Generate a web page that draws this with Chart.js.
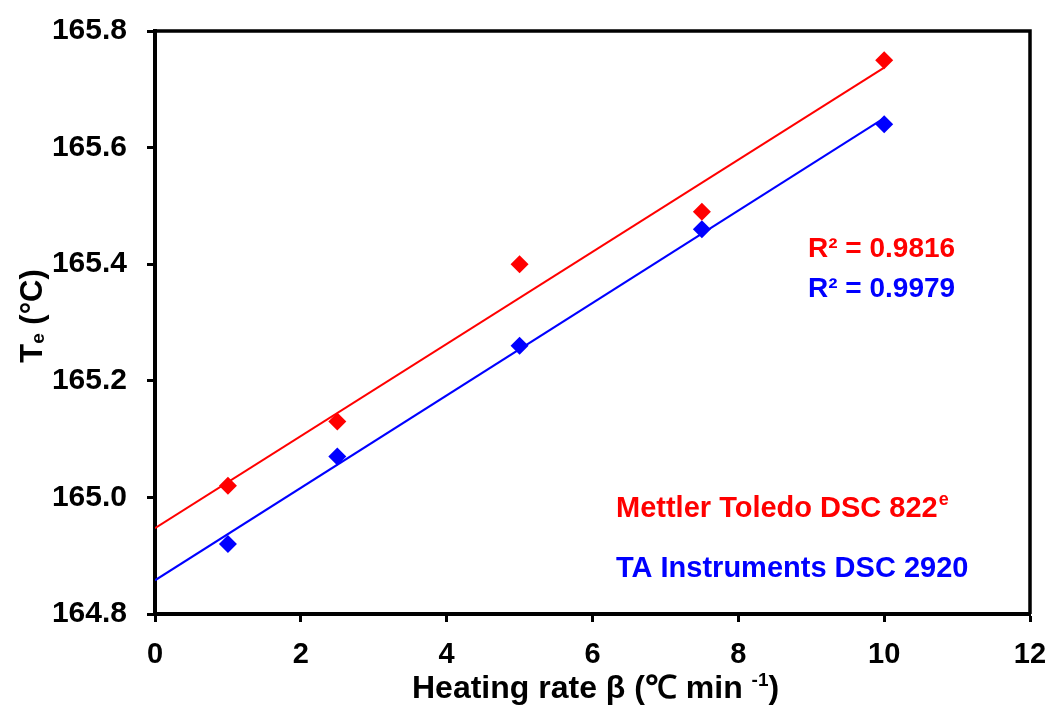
<!DOCTYPE html>
<html>
<head>
<meta charset="utf-8">
<script src="https://cdn.jsdelivr.net/npm/chart.js@4.4.1/dist/chart.umd.min.js"></script>
<style>
  html, body { margin: 0; padding: 0; background: #fff; }
  canvas { display: block; }
</style>
</head>
<body>
<canvas id="chart" width="1053" height="707"></canvas>
<script>
// heating rate (°C/min) and extrapolated onset temperature Te (°C)
const heatingRates = [1, 2.5, 5, 7.5, 10];
const mettlerTe = [165.02, 165.13, 165.40, 165.49, 165.75];
const taTe = [164.92, 165.07, 165.26, 165.46, 165.64];

const xTickRange = [0, 12, 2];        // min, max, step
const yTickRange = [164.8, 165.8, 0.2];

const mettlerLabel = 'Mettler Toledo DSC 822';
const taLabel = 'TA Instruments DSC 2920';
const mettlerR2 = 'R² = 0.9816';
const taR2 = 'R² = 0.9979';

const RED = '#ff0000';
const BLUE = '#0000ff';
const FONT = '"Liberation Sans", Arial, sans-serif';

// least squares fit, drawn from x = 0 to the last point like the Excel trendline
function trend(xs, ys) {
    const n = xs.length;
    const mx = xs.reduce((a, b) => a + b, 0) / n;
    const my = ys.reduce((a, b) => a + b, 0) / n;
    let sxy = 0, sxx = 0;
    xs.forEach((x, i) => { sxy += (x - mx) * (ys[i] - my); sxx += (x - mx) * (x - mx); });
    const slope = sxy / sxx;
    const icpt = my - slope * mx;
    const x1 = xs[n - 1];
    return [{ x: 0, y: icpt }, { x: x1, y: icpt + slope * x1 }];
}

const toPoints = (xs, ys) => xs.map((x, i) => ({ x: x, y: ys[i] }));

// frame, annotations and axis titles (with sub/superscripts)
const extras = {
    id: 'extras',
    afterDraw(chart) {
        const ctx = chart.ctx;
        const a = chart.chartArea;
        ctx.save();
        ctx.strokeStyle = '#000';
        ctx.lineWidth = 3.5;
        ctx.beginPath();
        ctx.moveTo(a.left, a.top);
        ctx.lineTo(a.right, a.top);
        ctx.lineTo(a.right, a.bottom);
        ctx.stroke();

        ctx.textBaseline = 'alphabetic';
        ctx.textAlign = 'left';
        ctx.font = 'bold 28px ' + FONT;
        ctx.fillStyle = RED;
        ctx.fillText(mettlerR2, 808, 257);
        ctx.fillStyle = BLUE;
        ctx.fillText(taR2, 808, 297);

        ctx.font = 'bold 29px ' + FONT;
        ctx.fillStyle = RED;
        ctx.fillText(mettlerLabel, 616, 517);
        let w = ctx.measureText(mettlerLabel).width;
        ctx.font = 'bold 18px ' + FONT;
        ctx.fillText('e', 616 + w + 1, 505);
        ctx.font = 'bold 29px ' + FONT;
        ctx.fillStyle = BLUE;
        ctx.fillText(taLabel, 616, 577);

        // x title
        ctx.fillStyle = '#000';
        const big = 'bold 32px ' + FONT, small = 'bold 19px ' + FONT;
        const p1 = 'Heating rate β (℃ min ', p2 = '-1', p3 = ')';
        ctx.font = big; const w1 = ctx.measureText(p1).width, w3 = ctx.measureText(p3).width;
        ctx.font = small; const w2 = ctx.measureText(p2).width;
        let x = 412;
        const by = 698;
        ctx.font = big; ctx.fillText(p1, x, by); x += w1;
        ctx.font = small; ctx.fillText(p2, x, by - 12); x += w2;
        ctx.font = big; ctx.fillText(p3, x, by);

        // y title
        ctx.translate(42, 316);
        ctx.rotate(-Math.PI / 2);
        const t1 = 'T', t2 = 'e', t3 = ' (°C)';
        ctx.font = 'bold 31px ' + FONT; const v1 = ctx.measureText(t1).width, v3 = ctx.measureText(t3).width;
        ctx.font = small; const v2 = ctx.measureText(t2).width;
        x = -(v1 + v2 + v3) / 2;
        ctx.font = 'bold 31px ' + FONT; ctx.fillText(t1, x, 0); x += v1;
        ctx.font = small; ctx.fillText(t2, x, 2); x += v2;
        ctx.font = 'bold 31px ' + FONT; ctx.fillText(t3, x, 0);
        ctx.restore();
    }
};

new Chart(document.getElementById('chart'), {
    type: 'scatter',
    data: {
        datasets: [
            {
                label: mettlerLabel,
                data: toPoints(heatingRates, mettlerTe),
                pointStyle: 'rectRot',
                pointRadius: 9,
                backgroundColor: RED,
                borderColor: RED,
                borderWidth: 0
            },
            {
                label: taLabel,
                data: toPoints(heatingRates, taTe),
                pointStyle: 'rectRot',
                pointRadius: 9,
                backgroundColor: BLUE,
                borderColor: BLUE,
                borderWidth: 0
            },
            {
                label: 'fit1',
                data: trend(heatingRates, mettlerTe),
                showLine: true,
                pointRadius: 0,
                borderColor: RED,
                borderWidth: 2
            },
            {
                label: 'fit2',
                data: trend(heatingRates, taTe),
                showLine: true,
                pointRadius: 0,
                borderColor: BLUE,
                borderWidth: 2
            }
        ]
    },
    options: {
        responsive: false,
        animation: false,
        layout: { padding: { top: 31, right: 23, left: 0, bottom: 0 } },
        plugins: {
            legend: { display: false },
            tooltip: { enabled: false }
        },
        scales: {
            x: {
                type: 'linear',
                min: xTickRange[0],
                max: xTickRange[1],
                ticks: {
                    stepSize: xTickRange[2],
                    color: '#000',
                    padding: 16,
                    font: { family: FONT, size: 29, weight: 'bold' }
                },
                grid: { drawOnChartArea: false, tickLength: 8, tickWidth: 3, tickColor: '#000' },
                border: { color: '#000', width: 4 },
                afterFit(scale) {
                    scale.height = 93;
                    scale.paddingLeft = 0;
                    scale.paddingRight = 0;
                }
            },
            y: {
                min: yTickRange[0],
                max: yTickRange[1],
                ticks: {
                    stepSize: yTickRange[2],
                    color: '#000',
                    padding: 20,
                    font: { family: FONT, size: 30, weight: 'bold' },
                    callback: v => v.toFixed(1)
                },
                grid: { drawOnChartArea: false, tickLength: 8, tickWidth: 3, tickColor: '#000' },
                border: { color: '#000', width: 4 },
                afterFit(scale) {
                    scale.width = 155;
                    scale.paddingTop = 0;
                    scale.paddingBottom = 0;
                }
            }
        }
    },
    plugins: [extras]
});
</script>
</body>
</html>
